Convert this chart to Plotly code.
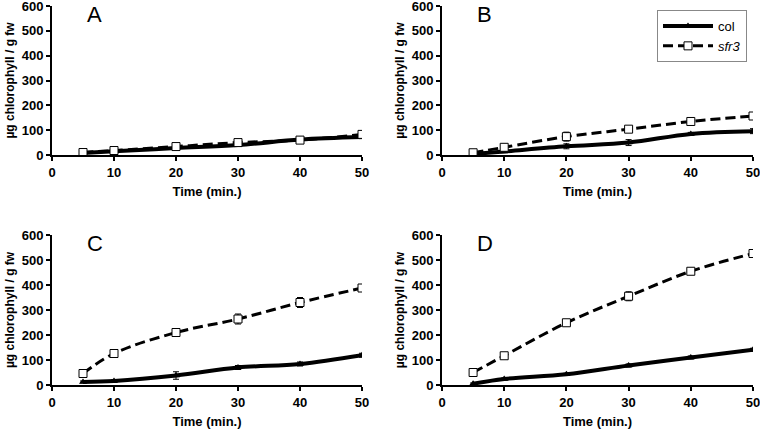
import plotly.graph_objects as go

time = [5, 10, 20, 30, 40, 50]
panels = ["A", "B", "C", "D"]

col_A = [8, 15, 28, 40, 62, 72]
sfr3_A = [10, 18, 34, 50, 60, 83]
col_A_err = [2, 3, 4, 5, 4, 6]
sfr3_A_err = [2, 3, 5, 5, 4, 10]

col_B = [4, 14, 35, 50, 85, 96]
sfr3_B = [9, 31, 74, 104, 135, 157]
col_B_err = [2, 4, 10, 12, 6, 10]
sfr3_B_err = [3, 12, 18, 6, 6, 8]

col_C = [12, 16, 38, 70, 84, 119]
sfr3_C = [46, 126, 210, 264, 330, 388]
col_C_err = [4, 5, 15, 8, 8, 8]
sfr3_C_err = [5, 6, 10, 20, 20, 10]

col_D = [5, 24, 43, 78, 110, 141]
sfr3_D = [50, 117, 249, 355, 455, 526]
col_D_err = [3, 4, 4, 6, 6, 6]
sfr3_D_err = [4, 6, 6, 18, 8, 10]

x_ticks = [0, 10, 20, 30, 40, 50]
y_ticks = [0, 100, 200, 300, 400, 500, 600]

col_series = [col_A, col_B, col_C, col_D]
sfr3_series = [sfr3_A, sfr3_B, sfr3_C, sfr3_D]
col_errs = [col_A_err, col_B_err, col_C_err, col_D_err]
sfr3_errs = [sfr3_A_err, sfr3_B_err, sfr3_C_err, sfr3_D_err]

W, H = 760, 429
FONT = "Arial, Liberation Sans, sans-serif"

xdoms = [[52 / W, 362 / W], [442 / W, 753 / W]]
ydoms = [[1 - 155 / H, 1 - 6 / H], [1 - 385 / H, 1 - 235 / H]]

fig = go.Figure()
layout = dict(
    width=W, height=H,
    margin=dict(l=0, r=0, t=0, b=0, autoexpand=False),
    paper_bgcolor="white", plot_bgcolor="white",
    font=dict(family=FONT, color="black"),
    showlegend=True,
    legend=dict(
        x=657 / W, y=1 - 10 / H, xanchor="left", yanchor="top",
        bordercolor="#888888", borderwidth=1, bgcolor="white",
        font=dict(family=FONT, size=13, color="black"),
        tracegroupgap=0, itemwidth=50,
    ),
)

annotations = []
for i, p in enumerate(panels):
    r, c = divmod(i, 2)
    xa = "x" if i == 0 else f"x{i+1}"
    ya = "y" if i == 0 else f"y{i+1}"
    xkey = "xaxis" if i == 0 else f"xaxis{i+1}"
    ykey = "yaxis" if i == 0 else f"yaxis{i+1}"
    layout[xkey] = dict(
        domain=xdoms[c], anchor=ya, range=[0, 50], tickvals=x_ticks,
        automargin=False, ticklabeloverflow="allow",
        showgrid=False, zeroline=False, showline=True, linecolor="black", linewidth=2,
        ticks="outside", ticklen=4, tickwidth=1.5, tickcolor="black",
        tickfont=dict(family=FONT, size=13, color="black", weight="bold"),
        title=dict(text="<b>Time (min.)</b>", font=dict(family=FONT, size=13), standoff=8),
    )
    layout[ykey] = dict(
        domain=ydoms[r], anchor=xa, range=[0, 600], tickvals=y_ticks,
        automargin=False, ticklabeloverflow="allow",
        showgrid=False, zeroline=False, showline=True, linecolor="black", linewidth=2,
        ticks="outside", ticklen=4, tickwidth=1.5, tickcolor="black",
        tickfont=dict(family=FONT, size=13, color="black", weight="bold"),
        title=dict(text="<b>µg chlorophyll / g fw</b>", font=dict(family=FONT, size=12), standoff=4),
    )
    fig.add_trace(go.Scatter(
        x=time, y=col_series[i], xaxis=xa, yaxis=ya,
        mode="lines+markers", name="col", line_shape="spline",
        line=dict(color="black", width=4),
        marker=dict(symbol="triangle-up", size=7, color="black"),
        error_y=dict(type="data", array=col_errs[i], color="black", thickness=1, width=3),
        showlegend=(i == 0), legendrank=1,
    ))
    fig.add_trace(go.Scatter(
        x=time, y=sfr3_series[i], xaxis=xa, yaxis=ya,
        mode="lines+markers", name="<i>sfr3</i>", line_shape="spline",
        line=dict(color="black", width=3, dash="10px,5px"),
        marker=dict(symbol="square", size=8, color="white", line=dict(color="black", width=1)),
        error_y=dict(type="data", array=sfr3_errs[i], color="black", thickness=1, width=3),
        showlegend=(i == 0), legendrank=2,
    ))
    annotations.append(dict(
        text=p, x=xdoms[c][0] + 33 / W, y=ydoms[r][1] + 6 / H,
        xref="paper", yref="paper", xanchor="left", yanchor="top",
        showarrow=False, font=dict(family=FONT, size=22, color="black"),
    ))

layout["annotations"] = annotations
fig.update_layout(**layout)
fig.write_html("out.html", config={"displayModeBar": False},
               post_script="document.body.style.margin='0';")
